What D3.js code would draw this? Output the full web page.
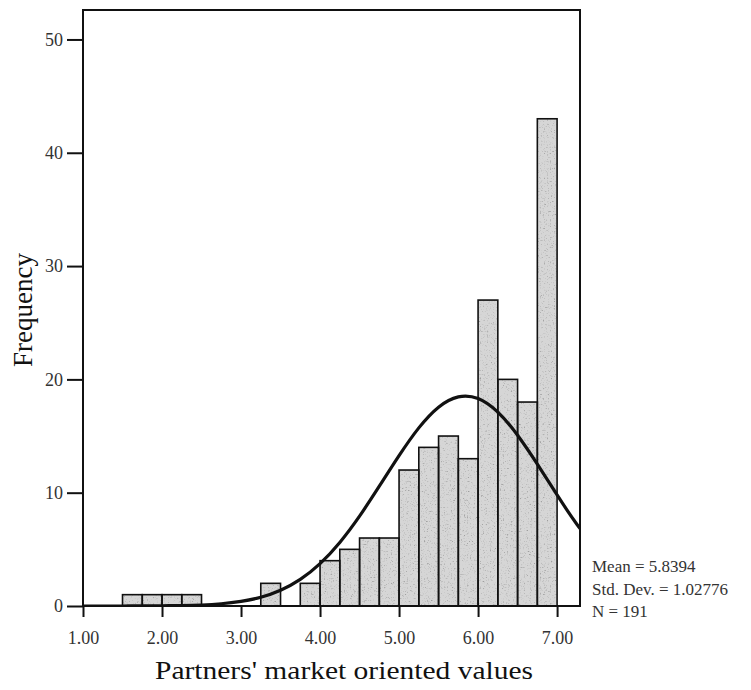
<!DOCTYPE html>
<html>
<head>
<meta charset="utf-8">
<script src="https://cdn.jsdelivr.net/npm/d3@7"></script>
<style>
  body { margin: 0; background: white; }
  text { font-family: "Liberation Serif", "DejaVu Serif", serif; }
</style>
</head>
<body>
<div id="chart_area"></div>
<script>

// Histogram bins (lower edge of each 0.25 wide bin) and counts
var binLow = [1.50, 1.75, 2.00, 2.25, 3.25, 3.75, 4.00, 4.25, 4.50, 4.75, 5.00, 5.25, 5.50, 5.75, 6.00, 6.25, 6.50, 6.75];
var binCount = [1, 1, 1, 1, 2, 2, 4, 5, 6, 6, 12, 14, 15, 13, 27, 20, 18, 43];
var binWidth = 0.25;

// Normal curve at steps of 0.25
var curveX = [1.00, 1.25, 1.50, 1.75, 2.00, 2.25, 2.50, 2.75, 3.00, 3.25, 3.50, 3.75, 4.00, 4.25, 4.50,
              4.75, 5.00, 5.25, 5.50, 5.75, 6.00, 6.25, 6.50, 6.75, 7.00, 7.25, 7.50];
var curveY = [0.00, 0.00, 0.00, 0.01, 0.02, 0.04, 0.09, 0.20, 0.41, 0.77, 1.39, 2.35, 3.74, 5.61, 7.93,
              10.57, 13.27, 15.72, 17.55, 18.46, 18.31, 17.11, 15.07, 12.52, 9.80, 7.22, 5.02];

// Tick labels
var xTicks = [1, 2, 3, 4, 5, 6, 7];
var yTicks = [0, 10, 20, 30, 40, 50];

// Summary text
var statLines = ["Mean = 5.8394", "Std. Dev. = 1.02776", "N = 191"];

window.onload = function() {

  var svgW = 751
  var svgH = 690
  var margin = {left: 83, right: 171, top: 10, bottom: 84}
  var plotW = svgW - margin.left - margin.right
  var plotH = svgH - margin.top - margin.bottom

  var xScale = d3.scaleLinear()
                  .domain([1, 7.29])
                  .range([0, plotW]);

  var yScale = d3.scaleLinear()
                  .domain([0, 52.6])
                  .range([plotH, 0]);

  var svg = d3.select("#chart_area")
              .append("svg")
                .attr("width", svgW)
                .attr("height", svgH);

  // Speckled grey fill like the scanned bars
  var defs = svg.append("defs");
  var filter = defs.append("filter")
                    .attr("id", "speckle")
                    .attr("x", 0).attr("y", 0)
                    .attr("width", 1).attr("height", 1);
  filter.append("feTurbulence")
          .attr("type", "fractalNoise")
          .attr("baseFrequency", 0.7)
          .attr("numOctaves", 2)
          .attr("seed", 3)
          .attr("result", "noise");
  filter.append("feColorMatrix")
          .attr("in", "noise")
          .attr("type", "matrix")
          .attr("values", "0 0 0 0 0.35  0 0 0 0 0.35  0 0 0 0 0.35  -1.8 -1.8 -1.8 0 2.5")
          .attr("result", "dots");
  filter.append("feComposite")
          .attr("in", "dots")
          .attr("in2", "SourceGraphic")
          .attr("operator", "in")
          .attr("result", "dotsIn");
  var merge = filter.append("feMerge");
  merge.append("feMergeNode").attr("in", "SourceGraphic");
  merge.append("feMergeNode").attr("in", "dotsIn");

  defs.append("clipPath")
        .attr("id", "plotClip")
      .append("rect")
        .attr("x", 0)
        .attr("y", 0)
        .attr("width", plotW)
        .attr("height", plotH);

  var g = svg.append("g")
              .attr("transform", "translate(" + margin.left + "," + margin.top + ")");

  // Bars
  var bins = binLow.map(function(d, i) { return {low: d, count: binCount[i]}; });

  g.append("g")
      .attr("class", "bars")
    .selectAll("rect")
    .data(bins)
    .enter()
    .append("rect")
      .attr("x", function(d) { return xScale(d.low); })
      .attr("y", function(d) { return yScale(d.count); })
      .attr("width", function(d) { return xScale(d.low + binWidth) - xScale(d.low); })
      .attr("height", function(d) { return yScale(0) - yScale(d.count); })
      .attr("fill", "#d6d6d6")
      .attr("filter", "url(#speckle)");

  g.append("g")
      .attr("class", "barOutlines")
    .selectAll("rect")
    .data(bins)
    .enter()
    .append("rect")
      .attr("x", function(d) { return xScale(d.low); })
      .attr("y", function(d) { return yScale(d.count); })
      .attr("width", function(d) { return xScale(d.low + binWidth) - xScale(d.low); })
      .attr("height", function(d) { return yScale(0) - yScale(d.count); })
      .attr("fill", "none")
      .attr("stroke", "#111")
      .attr("stroke-width", 1.6);

  // Normal curve
  var curvePoints = curveX.map(function(d, i) { return [d, curveY[i]]; });
  var line = d3.line()
                .x(function(d) { return xScale(d[0]); })
                .y(function(d) { return yScale(d[1]); })
                .curve(d3.curveNatural);

  g.append("path")
      .datum(curvePoints)
      .attr("clip-path", "url(#plotClip)")
      .attr("d", line)
      .attr("fill", "none")
      .attr("stroke", "#111")
      .attr("stroke-width", 3.2);

  // Frame
  g.append("rect")
      .attr("x", 0)
      .attr("y", 0)
      .attr("width", plotW)
      .attr("height", plotH)
      .attr("fill", "none")
      .attr("stroke", "#111")
      .attr("stroke-width", 2);

  // Axes
  var yAxis = d3.axisLeft(yScale)
                .tickValues(yTicks)
                .tickSize(16)
                .tickPadding(4)
                .tickFormat(d3.format("d"));
  var yG = g.append("g")
              .attr("class", "y axis")
              .call(yAxis);

  var xAxis = d3.axisBottom(xScale)
                .tickValues(xTicks)
                .tickSize(11)
                .tickPadding(14)
                .tickFormat(d3.format(".2f"));
  var xG = g.append("g")
              .attr("class", "x axis")
              .attr("transform", "translate(0," + plotH + ")")
              .call(xAxis);

  [yG, xG].forEach(function(a) {
    a.select(".domain").remove();
    a.selectAll("line").attr("stroke", "#111").attr("stroke-width", 2);
    a.selectAll("text")
      .attr("fill", "#333")
      .style("font-size", "18px");
  });

  // Axis titles
  svg.append("text")
      .attr("transform", "translate(32,310) rotate(-90)")
      .style("text-anchor", "middle")
      .style("font-size", "27px")
      .attr("fill", "#111")
      .text("Frequency");

  svg.append("text")
      .attr("x", 344)
      .attr("y", 679)
      .style("text-anchor", "middle")
      .style("font-size", "25px")
      .attr("textLength", 378)
      .attr("lengthAdjust", "spacingAndGlyphs")
      .attr("fill", "#111")
      .text("Partners' market oriented values");

  // Summary statistics
  svg.append("g")
      .attr("class", "stats")
    .selectAll("text")
    .data(statLines)
    .enter()
    .append("text")
      .attr("x", 592)
      .attr("y", function(d, i) { return 572 + i * 22.5; })
      .style("font-size", "17px")
      .attr("fill", "#333")
      .text(function(d) { return d; });
};
</script>
</body>
</html>
